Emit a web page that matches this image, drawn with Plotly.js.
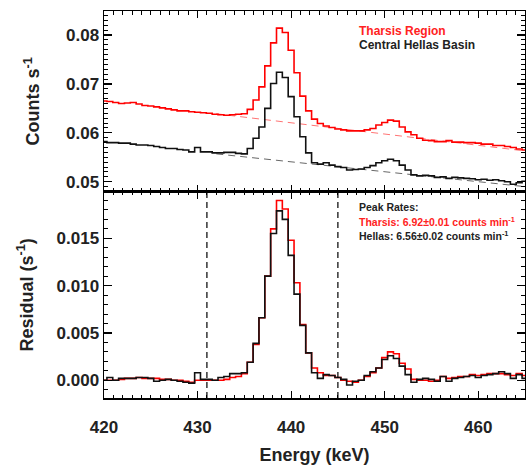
<!DOCTYPE html>
<html>
<head>
<meta charset="utf-8">
<script src="https://cdn.plot.ly/plotly-3.0.1.min.js"></script>
<style>html,body{margin:0;padding:0;background:#fff;}#chart{width:526px;height:465px;}</style>
</head>
<body>
<div id="chart"></div>
<script>
// Bin centres (keV)
const energy = [420.000,420.625,421.250,421.875,422.500,423.125,423.750,424.375,425.000,425.625,
426.250,426.875,427.500,428.125,428.750,429.375,430.000,430.625,431.250,431.875,
432.500,433.125,433.750,434.375,435.000,435.625,436.250,436.875,437.500,438.125,
438.750,439.375,440.000,440.625,441.250,441.875,442.500,443.125,443.750,444.375,
445.000,445.625,446.250,446.875,447.500,448.125,448.750,449.375,450.000,450.625,
451.250,451.875,452.500,453.125,453.750,454.375,455.000,455.625,456.250,456.875,
457.500,458.125,458.750,459.375,460.000,460.625,461.250,461.875,462.500,463.125,
463.750,464.375,465.000];

// Counts s^-1 (top panel)
const tharsisCounts = [0.0665,0.0664,0.0662,0.0660,0.0661,0.0662,0.0659,0.0656,0.0655,0.0653,
0.0651,0.0649,0.0647,0.0645,0.0645,0.0643,0.0642,0.0641,0.0640,0.0638,
0.0637,0.0636,0.0637,0.0638,0.0639,0.0648,0.0667,0.0694,0.0737,0.0784,
0.0814,0.0805,0.0769,0.0723,0.0675,0.0645,0.0628,0.0619,0.0614,0.0611,
0.0608,0.0606,0.0604,0.0604,0.0604,0.0606,0.0609,0.0616,0.0621,0.0626,
0.0624,0.0612,0.0602,0.0596,0.0589,0.0585,0.0584,0.0582,0.0582,0.0584,
0.0581,0.0581,0.0580,0.0580,0.0579,0.0577,0.0577,0.0574,0.0574,0.0572,
0.0570,0.0567,0.0565];

const hellasCounts = [0.0582,0.0580,0.0580,0.0579,0.0579,0.0577,0.0575,0.0575,0.0574,0.0572,
0.0570,0.0568,0.0568,0.0566,0.0565,0.0561,0.0570,0.0561,0.0561,0.0559,
0.0559,0.0560,0.0560,0.0558,0.0557,0.0568,0.0589,0.0612,0.0650,0.0701,
0.0724,0.0713,0.0674,0.0633,0.0592,0.0559,0.0539,0.0536,0.0539,0.0534,
0.0531,0.0529,0.0524,0.0525,0.0526,0.0529,0.0533,0.0539,0.0543,0.0546,
0.0543,0.0534,0.0524,0.0514,0.0512,0.0513,0.0512,0.0509,0.0510,0.0507,
0.0509,0.0508,0.0507,0.0506,0.0504,0.0505,0.0503,0.0504,0.0502,0.0500,
0.0495,0.0498,0.0501];

// Linear continuum fits (dashed)
const bgEnergy = [432, 465];
const tharsisBg = [0.0639, 0.0563];
const hellasBg = [0.0557, 0.0490];

// Residuals (s^-1, bottom panel)
const tharsisResid = [0.0000,0.0000,0.0000,0.0001,0.0002,0.0002,0.0003,0.0002,0.0002,0.0002,
0.0001,0.0001,0.0000,0.0000,-0.0001,-0.0002,0.0000,0.0000,0.0000,0.0000,
0.0000,0.0001,0.0003,0.0004,0.0007,0.0019,0.0038,0.0066,0.0110,0.0160,
0.0190,0.0181,0.0148,0.0103,0.0059,0.0029,0.0013,0.0008,0.0005,0.0005,
0.0003,0.0000,-0.0001,-0.0002,0.0000,0.0004,0.0008,0.0013,0.0024,0.0030,
0.0028,0.0018,0.0012,0.0001,0.0000,0.0000,-0.0001,0.0000,0.0004,0.0002,
0.0003,0.0004,0.0004,0.0006,0.0005,0.0006,0.0007,0.0007,0.0007,0.0006,
0.0005,0.0007,0.0005];

const hellasResid = [0.0000,0.0003,0.0000,0.0002,0.0002,0.0002,0.0003,0.0003,0.0002,-0.0001,
0.0000,0.0001,0.0000,-0.0001,-0.0002,-0.0003,0.0008,0.0001,0.0001,0.0000,
0.0003,0.0004,0.0007,0.0007,0.0008,0.0019,0.0039,0.0066,0.0110,0.0155,
0.0179,0.0170,0.0132,0.0091,0.0058,0.0029,0.0008,0.0002,0.0006,0.0005,
0.0003,0.0001,-0.0005,-0.0001,0.0000,0.0005,0.0009,0.0013,0.0022,0.0026,
0.0023,0.0015,0.0006,-0.0002,0.0001,0.0002,0.0001,-0.0001,0.0004,-0.0001,
0.0002,0.0003,0.0004,0.0005,0.0003,0.0005,0.0006,0.0007,0.0009,0.0007,
0.0002,0.0006,0.0002];

// Peak integration window (keV)
const peakWindow = [431, 445];

// Peak rates (counts min^-1)
const regionNames = ['Tharsis', 'Hellas'];
const peakRates = ['6.92', '6.56'];
const peakErrors = ['0.01', '0.02'];

const RED = '#ff0000';
const BLK = '#111111';
const FONT = 'Liberation Sans, Arial, sans-serif';

const traces = [
  {x: bgEnergy, y: tharsisBg, xaxis:'x', yaxis:'y', mode:'lines', line:{color:'rgba(255,0,0,0.55)', width:1, dash:'7px,5px'}},
  {x: bgEnergy, y: hellasBg, xaxis:'x', yaxis:'y', mode:'lines', line:{color:'rgba(0,0,0,0.6)', width:1, dash:'7px,5px'}},
  {x: energy, y: tharsisCounts, xaxis:'x', yaxis:'y', mode:'lines', line:{color:RED, width:1.6, shape:'hvh'}},
  {x: energy, y: hellasCounts, xaxis:'x', yaxis:'y', mode:'lines', line:{color:BLK, width:1.6, shape:'hvh'}},
  {x: energy, y: tharsisResid, xaxis:'x2', yaxis:'y2', mode:'lines', line:{color:RED, width:1.6, shape:'hvh'}},
  {x: energy, y: hellasResid, xaxis:'x2', yaxis:'y2', mode:'lines', line:{color:BLK, width:1.6, shape:'hvh'}}
];

const tickFont = {family: FONT, size: 17, color: '#222', weight: 'bold'};
const titleFont = {family: FONT, size: 18, color: '#222', weight: 'bold'};

function xAxis(anchor, labels) {
  return {
    anchor: anchor, range: [420, 465], tick0: 420, dtick: 10,
    ticks: 'inside', ticklen: 7, tickwidth: 1.2, tickcolor: '#000',
    minor: {dtick: 1, ticks: 'inside', ticklen: 3.5, tickwidth: 1, tickcolor: '#000', showgrid: false},
    showline: true, linecolor: '#000', linewidth: 1.5, mirror: 'ticks',
    showgrid: false, zeroline: false, showticklabels: labels, tickfont: tickFont
  };
}

const layout = {
  width: 526, height: 465,
  margin: {l: 104, r: 1, t: 11, b: 67},
  paper_bgcolor: '#fff', plot_bgcolor: '#fff',
  showlegend: false,
  font: {family: FONT},
  xaxis: xAxis('y', false),
  xaxis2: Object.assign(xAxis('y2', true), {matches: 'x', ticklabelstandoff: 13,
    title: {text: 'Energy (keV)', font: titleFont, standoff: 14}}),
  yaxis: {
    domain: [0.533, 1], anchor: 'x', range: [0.04796, 0.08491], tick0: 0, dtick: 0.01, tickformat: '.2f',
    ticks: 'inside', ticklen: 8, tickwidth: 1.2, tickcolor: '#000',
    minor: {dtick: 0.001, ticks: 'inside', ticklen: 4, tickwidth: 1, tickcolor: '#000', showgrid: false},
    showline: true, linecolor: '#000', linewidth: 1.5, mirror: 'ticks',
    showgrid: false, zeroline: false, tickfont: tickFont,
    title: {text: 'Counts s<sup>-1</sup>', font: titleFont, standoff: 21}
  },
  yaxis2: {
    domain: [0, 0.533], anchor: 'x2', range: [-0.00187, 0.01992], tick0: 0, dtick: 0.005, tickformat: '.3f',
    ticks: 'inside', ticklen: 8, tickwidth: 1.2, tickcolor: '#000',
    minor: {dtick: 0.001, ticks: 'inside', ticklen: 4, tickwidth: 1, tickcolor: '#000', showgrid: false},
    showline: true, linecolor: '#000', linewidth: 1.5, mirror: 'ticks',
    showgrid: false, zeroline: false, tickfont: tickFont,
    title: {text: 'Residual (s<sup>-1</sup>)', font: titleFont, standoff: 18}
  },
  shapes: peakWindow.map(e => ({
    type: 'line', xref: 'x2', yref: 'y2 domain', x0: e, x1: e, y0: 0, y1: 1,
    line: {color: '#000', width: 1.2, dash: '6px,4px'}
  })),
  annotations: [
    {xref:'paper', yref:'paper', x:0.601, y:0.948, xanchor:'left', yanchor:'middle', showarrow:false,
     text:'Tharsis Region', font:{family:FONT, size:12, color:'#ff2222', weight:'bold'}},
    {xref:'paper', yref:'paper', x:0.601, y:0.912, xanchor:'left', yanchor:'middle', showarrow:false,
     text:'Central Hellas Basin', font:{family:FONT, size:12, color:'#222', weight:'bold'}},
    {xref:'paper', yref:'paper', x:0.601, y:0.4935, xanchor:'left', yanchor:'middle', showarrow:false,
     text:'Peak Rates:', font:{family:FONT, size:10.5, color:'#222', weight:'bold'}},
    {xref:'paper', yref:'paper', x:0.601, y:0.457, xanchor:'left', yanchor:'middle', showarrow:false,
     text: regionNames[0] + ': ' + peakRates[0] + '±' + peakErrors[0] + ' counts min<sup>-1</sup>',
     font:{family:FONT, size:10.5, color:'#ff2222', weight:'bold'}},
    {xref:'paper', yref:'paper', x:0.601, y:0.421, xanchor:'left', yanchor:'middle', showarrow:false,
     text: regionNames[1] + ': ' + peakRates[1] + '±' + peakErrors[1] + ' counts min<sup>-1</sup>',
     font:{family:FONT, size:10.5, color:'#222', weight:'bold'}}
  ]
};

Plotly.newPlot('chart', traces, layout, {displayModeBar: false, staticPlot: true});
</script>
</body>
</html>
